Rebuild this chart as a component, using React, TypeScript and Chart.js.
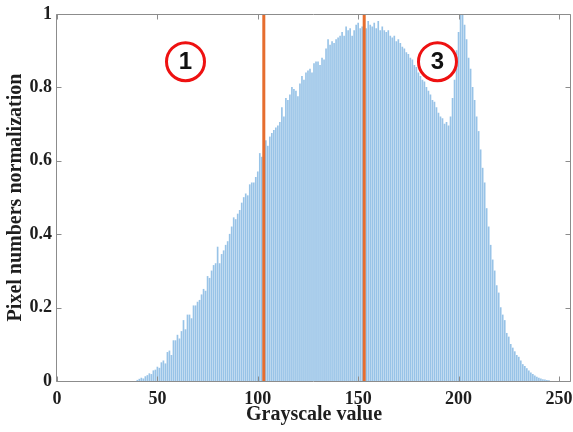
import React, { useEffect, useRef } from "react";
import { Chart, registerables } from "chart.js";

Chart.register(...registerables);

// Histogram: normalized pixel counts for grayscale levels starting at binStart
const binStart = 40;
const normCounts = [
  0.002, 0.005, 0.008, 0.006, 0.012, 0.015, 0.02, 0.018, 0.028, 0.03, // 40-49
  0.038, 0.035, 0.05, 0.055, 0.047, 0.078, 0.082, 0.07, 0.11, 0.11, // 50-59
  0.125, 0.115, 0.135, 0.165, 0.14, 0.18, 0.18, 0.17, 0.205, 0.205, // 60-69
  0.215, 0.22, 0.235, 0.25, 0.245, 0.285, 0.28, 0.3, 0.315, 0.32, // 70-79
  0.365, 0.32, 0.345, 0.355, 0.37, 0.38, 0.4, 0.42, 0.445, 0.44, // 80-89
  0.455, 0.465, 0.485, 0.5, 0.51, 0.505, 0.535, 0.54, 0.54, 0.555, // 90-99
  0.57, 0.62, 0.61, 0.64, 0.655, 0.64, 0.665, 0.675, 0.683, 0.69, // 100-109
  0.695, 0.705, 0.745, 0.72, 0.77, 0.765, 0.78, 0.8, 0.795, 0.79, // 110-119
  0.775, 0.81, 0.83, 0.82, 0.84, 0.845, 0.85, 0.84, 0.865, 0.87, // 120-129
  0.87, 0.86, 0.88, 0.875, 0.905, 0.93, 0.915, 0.925, 0.92, 0.93, // 130-139
  0.935, 0.94, 0.95, 0.94, 0.965, 0.955, 0.96, 0.94, 0.955, 0.97, // 140-149
  0.975, 0.96, 0.965, 0.985, 0.96, 0.98, 0.97, 0.965, 0.975, 0.96, // 150-159
  0.98, 0.955, 0.965, 0.955, 0.95, 0.955, 0.94, 0.935, 0.94, 0.925, // 160-169
  0.93, 0.92, 0.91, 0.905, 0.895, 0.89, 0.88, 0.875, 0.86, 0.855, // 170-179
  0.84, 0.83, 0.82, 0.815, 0.8, 0.79, 0.78, 0.765, 0.76, 0.745, // 180-189
  0.73, 0.72, 0.715, 0.7, 0.705, 0.695, 0.72, 0.77, 0.82, 0.9, // 190-199
  0.95, 1.0, 1.0, 0.97, 0.93, 0.88, 0.85, 0.8, 0.765, 0.72, // 200-209
  0.68, 0.63, 0.58, 0.54, 0.47, 0.42, 0.37, 0.33, 0.3, 0.26, // 210-219
  0.24, 0.2, 0.18, 0.165, 0.13, 0.12, 0.1, 0.09, 0.08, 0.07, // 220-229
  0.065, 0.055, 0.045, 0.04, 0.034, 0.028, 0.022, 0.018, 0.014, 0.011, // 230-239
  0.008, 0.006, 0.004, 0.003, 0.002, 0.001, // 240-245
];

const markerLines = [103, 153];
const circleLabels = ["1", "3"];
const circleX = [64, 189.5];
const circleY = [0.87, 0.87];
const xTicks = [0, 50, 100, 150, 200, 250];
const yTicks = [0, 0.2, 0.4, 0.6, 0.8, 1];

const AXIS_COLOR = "#8c8c8c";
const TEXT_COLOR = "#1e1e1e";
const SERIF = "'Liberation Serif', 'Times New Roman', serif";

const boxPlugin = {
  id: "boxAndMarks",
  afterDraw(chart: any) {
    const { ctx, chartArea, scales } = chart;
    const xs = scales.x;
    const ys = scales.y;
    const l = Math.round(chartArea.left) - 0.5;
    const r = Math.round(chartArea.right) - 0.5;
    const t = Math.round(chartArea.top) + 0.5;
    const b = Math.round(chartArea.bottom) + 0.5;
    ctx.save();
    ctx.strokeStyle = AXIS_COLOR;
    ctx.lineWidth = 1;
    ctx.beginPath();
    ctx.rect(l, t, r - l, b - t);
    const tl = 5;
    xTicks.forEach((v) => {
      const px = Math.round(xs.getPixelForValue(v)) + 0.5;
      ctx.moveTo(px, b);
      ctx.lineTo(px, b - tl);
      ctx.moveTo(px, t);
      ctx.lineTo(px, t + tl);
    });
    yTicks.forEach((v) => {
      const py = Math.round(ys.getPixelForValue(v)) + 0.5;
      ctx.moveTo(l, py);
      ctx.lineTo(l + tl, py);
      ctx.moveTo(r, py);
      ctx.lineTo(r - tl, py);
    });
    ctx.stroke();

    // circled region labels
    circleLabels.forEach((lab, i) => {
      const cx = xs.getPixelForValue(circleX[i]);
      const cy = ys.getPixelForValue(circleY[i]);
      ctx.beginPath();
      ctx.fillStyle = "#ffffff";
      ctx.arc(cx, cy, 19, 0, Math.PI * 2);
      ctx.fill();
      ctx.lineWidth = 3;
      ctx.strokeStyle = "#ee1111";
      ctx.stroke();
      ctx.fillStyle = "#111111";
      ctx.font = "bold 24px 'Liberation Sans', Arial, sans-serif";
      ctx.textAlign = "center";
      ctx.textBaseline = "middle";
      ctx.fillText(lab, cx, cy + 1);
    });
    ctx.restore();
  },
};

export default function App() {
  const canvasRef = useRef<HTMLCanvasElement | null>(null);

  useEffect(() => {
    const canvas = canvasRef.current;
    if (!canvas) return;
    const barData = normCounts.map((v, i) => ({ x: binStart + i, y: v }));
    const lineSets = markerLines.map((g) => ({
      type: "line" as const,
      data: [
        { x: g, y: 0 },
        { x: g, y: 1 },
      ],
      borderColor: "#e66d2e",
      borderWidth: 3,
      pointRadius: 0,
      fill: false,
      order: 1,
    }));

    const chart = new Chart(canvas, {
      type: "bar",
      data: {
        datasets: [
          {
            type: "bar" as const,
            data: barData,
            backgroundColor: "rgba(88,158,216,0.62)",
            borderWidth: 0,
            barThickness: 1,
            order: 2,
          } as any,
          ...(lineSets as any[]),
        ],
      },
      options: {
        responsive: false,
        animation: false,
        devicePixelRatio: 1,
        layout: { padding: { top: 14, right: 2, left: 0, bottom: 0 } },
        plugins: {
          legend: { display: false },
          tooltip: { enabled: false },
        },
        scales: {
          x: {
            type: "linear",
            min: 0,
            max: 256,
            offset: false,
            grid: { display: false, drawTicks: false },
            border: { display: false },
            afterBuildTicks: (s: any) => {
              s.ticks = xTicks.map((v) => ({ value: v }));
            },
            afterFit: (s: any) => {
              s.height = 51;
              s.paddingLeft = 0;
              s.paddingRight = 0;
            },
            ticks: {
              padding: 8,
              maxRotation: 0,
              autoSkip: false,
              color: TEXT_COLOR,
              font: { family: SERIF, size: 18, weight: "bold" },
              callback: (v: any) => String(v),
            },
            title: {
              display: true,
              text: "Grayscale value",
              color: TEXT_COLOR,
              font: { family: SERIF, size: 20, weight: "bold" },
              padding: { top: 0, bottom: 5 },
            },
          },
          y: {
            type: "linear",
            min: 0,
            max: 1,
            grid: { display: false, drawTicks: false },
            border: { display: false },
            afterBuildTicks: (s: any) => {
              s.ticks = yTicks.map((v) => ({ value: v }));
            },
            afterFit: (s: any) => {
              s.width = 57;
              s.paddingTop = 0;
              s.paddingBottom = 0;
            },
            ticks: {
              padding: 5,
              autoSkip: false,
              color: TEXT_COLOR,
              font: { family: SERIF, size: 18, weight: "bold" },
              callback: (v: any) => String(Math.round(Number(v) * 10) / 10),
            },
            title: {
              display: true,
              text: "Pixel numbers normalization",
              color: TEXT_COLOR,
              font: { family: SERIF, size: 20, weight: "bold" },
              padding: { top: 4, bottom: 0 },
            },
          },
        },
      },
      plugins: [boxPlugin],
    } as any);

    return () => {
      chart.destroy();
    };
  }, []);

  return (
    <div style={{ position: "absolute", left: 0, top: 0, width: 573, height: 432, background: "#fff" }}>
      <canvas ref={canvasRef} width={573} height={432} style={{ display: "block" }} />
    </div>
  );
}
